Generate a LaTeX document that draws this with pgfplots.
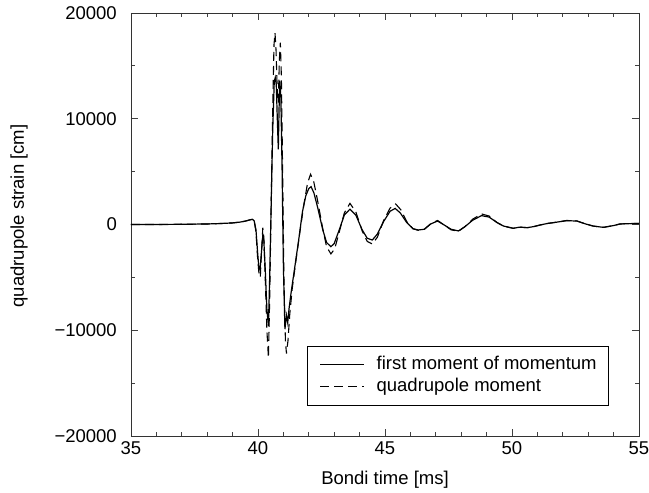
\documentclass[border=0pt]{standalone}
\usepackage{fontspec}
\setmainfont{Liberation Sans}
\usepackage{pgfplots}
\pgfplotsset{compat=1.18}
\begin{document}
\fontsize{18.5pt}{22pt}\selectfont
\begin{tikzpicture}
\path[use as bounding box] (-131pt,-57pt) rectangle (518pt,436pt);
\begin{axis}[
  at={(0,0)}, anchor=south west,
  scale only axis,
  width=508pt, height=423pt,
  xmin=35, xmax=55, ymin=-20000, ymax=20000,
  xtick={35,40,45,50,55},
  xticklabels={35,40,45,50,55},
  ytick={-20000,-10000,0,10000,20000},
  yticklabels={−20000,−10000,0,10000,20000},
  scaled x ticks=false, scaled y ticks=false,
  minor x tick num=4, minor y tick num=1,
  tick align=inside,
  major tick length=7pt, minor tick length=4pt,
  axis line style={black!80, line width=0.9pt},
  tick style={black!75, line width=0.8pt},
  xticklabel style={anchor=base, inner sep=0pt, yshift=-19pt},
  yticklabel style={anchor=east, inner sep=0pt, xshift=-14pt},
  xlabel={Bondi time [ms]},
  ylabel={quadrupole strain [cm]},
  x label style={at={(axis description cs:0.5,-0.1135)}, anchor=base},
  y label style={at={(axis description cs:-0.2205,0.52)}, anchor=center},
  legend style={at={(axis description cs:0.941,0.071)}, anchor=south east,
    draw=black, line width=0.8pt, fill=white,
    inner xsep=12pt, inner ysep=10pt,
    nodes={inner sep=0pt, text height=13.5pt, text depth=4pt},
    row sep=4.5pt, column sep=12pt},
  legend cell align=left,
  legend image code/.code={\draw[#1, line width=0.9pt] (0pt,0pt) -- (44pt,0pt);},
]
\addplot[black, line width=1.2pt] coordinates {
(35.0,0) (36.0,0) (37.0,20) (38.0,50) (38.5,90) (39.0,150) (39.3,230) (39.5,320) (39.7,450) (39.78,490) (39.85,350) (39.92,-500) (39.98,-2500) (40.03,-4000) (40.08,-4300) (40.13,-2800) (40.19,-1000) (40.23,-1500) (40.29,-4500) (40.35,-8000) (40.41,-9600) (40.46,-5000) (40.52,2000) (40.58,9000) (40.64,13500) (40.68,13900) (40.72,13200) (40.76,10000) (40.80,7100) (40.83,11000) (40.86,13600) (40.90,12000) (40.95,5000) (41.00,-4000) (41.06,-9900) (41.12,-8600) (41.17,-9300) (41.22,-8000) (41.30,-6500) (41.45,-4000) (41.60,-1500) (41.75,1200) (41.88,2700) (42.00,3400) (42.09,3575) (42.20,3000) (42.35,1600) (42.55,-500) (42.70,-1700) (42.87,-2100) (43.00,-1800) (43.20,-500) (43.40,900) (43.62,1450) (43.85,900) (44.10,-500) (44.30,-1300) (44.50,-1470) (44.70,-900) (44.95,300) (45.20,1250) (45.40,1520) (45.60,1100) (45.85,200) (46.10,-400) (46.31,-520) (46.55,-450) (46.80,50) (47.07,330) (47.30,0) (47.60,-450) (47.89,-610) (48.15,-200) (48.45,400) (48.80,840) (49.10,700) (49.40,200) (49.66,-140) (49.85,-250) (50.05,-360) (50.30,-250) (50.60,-300) (50.85,-200) (51.10,-50) (51.40,100) (51.70,200) (52.15,360) (52.55,330) (52.90,50) (53.20,-150) (53.60,-270) (54.00,-100) (54.25,50) (54.60,80) (55.00,100)
};
\addlegendentry{first moment of momentum}
\addplot[black, line width=1.1pt, dash pattern=on 9pt off 5pt] coordinates {
(35.0,0) (36.0,0) (37.0,20) (38.0,50) (38.5,90) (39.0,150) (39.3,230) (39.5,320) (39.7,450) (39.78,500) (39.85,330) (39.92,-700) (39.98,-3000) (40.04,-4700) (40.09,-5000) (40.14,-2500) (40.19,-300) (40.23,-1200) (40.29,-5500) (40.35,-10000) (40.41,-12600) (40.46,-7000) (40.52,2000) (40.58,11000) (40.63,17000) (40.67,18100) (40.71,16500) (40.76,12500) (40.80,11500) (40.84,15500) (40.88,17200) (40.92,14000) (40.97,5000) (41.02,-5000) (41.08,-11000) (41.12,-12200) (41.18,-11000) (41.25,-8500) (41.35,-6000) (41.50,-3300) (41.65,-700) (41.80,1800) (41.95,3900) (42.07,4750) (42.20,4000) (42.35,2200) (42.55,-400) (42.70,-2100) (42.87,-2780) (43.02,-2300) (43.20,-700) (43.40,1100) (43.62,2000) (43.85,1200) (44.10,-600) (44.30,-1600) (44.50,-1840) (44.70,-1200) (44.95,400) (45.20,1550) (45.42,1940) (45.62,1400) (45.85,300) (46.10,-400) (46.31,-550) (46.55,-450) (46.80,80) (47.07,380) (47.30,0) (47.60,-500) (47.89,-650) (48.15,-200) (48.45,500) (48.80,1000) (49.10,800) (49.40,200) (49.66,-150) (49.85,-250) (50.05,-360) (50.30,-250) (50.60,-300) (50.85,-200) (51.10,-50) (51.40,100) (51.70,200) (52.15,380) (52.55,340) (52.90,50) (53.20,-150) (53.60,-270) (54.00,-100) (54.25,50) (54.60,80) (55.00,100)
};
\addlegendentry{quadrupole moment}
\end{axis}
\end{tikzpicture}
\end{document}
